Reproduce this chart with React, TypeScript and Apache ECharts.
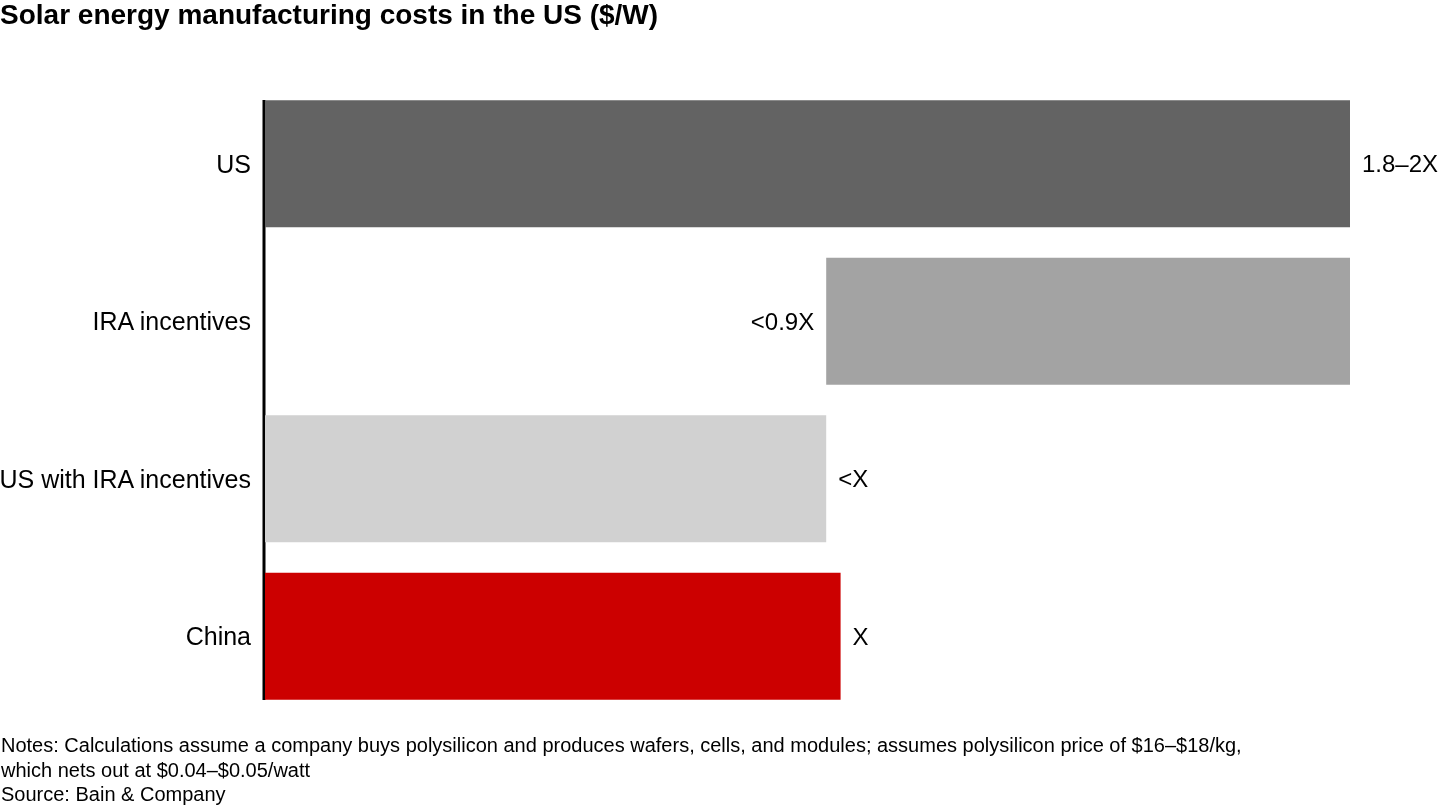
import React, { useEffect, useRef } from "react";
import * as echarts from "echarts";

const categories = ["US", "IRA incentives", "US with IRA incentives", "China"];
const baseValues = [0, 0.975, 0, 0];
const barValues = [1.885, 0.91, 0.975, 1.0];
const valueLabels = ["1.8–2X", "<0.9X", "<X", "X"];
const barColors = ["#636363", "#a3a3a3", "#d1d1d1", "#cc0000"];
const labelSides = ["right", "left", "right", "right"];

const titleText = "Solar energy manufacturing costs in the US ($/W)";
const noteLines = [
  "Notes: Calculations assume a company buys polysilicon and produces wafers, cells, and modules; assumes polysilicon price of $16–$18/kg,",
  "which nets out at $0.04–$0.05/watt",
  "Source: Bain & Company",
];

const FONT = "Arial, 'Liberation Sans', sans-serif";

export default function App() {
  const ref = useRef<HTMLDivElement>(null);
  useEffect(() => {
    if (!ref.current) return;
    const chart = echarts.init(ref.current, null, { renderer: "svg" });
    chart.setOption({
      animation: false,
      title: {
        text: titleText,
        left: 0,
        top: 0,
        padding: 0,
        textStyle: { fontFamily: FONT, fontSize: 28, fontWeight: "bold", color: "#000" },
      },
      grid: {
        left: 265,
        right: 90,
        top: 85,
        bottom: 95,
        containLabel: false,
        outerBoundsMode: "none",
      },
      xAxis: {
        type: "value",
        min: 0,
        max: 1.885,
        show: false,
      },
      yAxis: {
        type: "category",
        data: categories,
        inverse: true,
        axisLine: { show: false },
        axisTick: { show: false },
        axisLabel: { fontFamily: FONT, fontSize: 25, color: "#000", margin: 14 },
      },
      series: [
        {
          type: "bar",
          stack: "s",
          data: baseValues,
          itemStyle: { color: "transparent" },
          barCategoryGap: "19.4%",
          silent: true,
        },
        {
          type: "bar",
          stack: "s",
          barCategoryGap: "19.4%",
          data: barValues.map((v, i) => ({
            value: v,
            itemStyle: { color: barColors[i] },
            label: {
              show: true,
              position: labelSides[i],
              distance: 12,
              formatter: valueLabels[i],
              fontFamily: FONT,
              fontSize: 24,
              color: "#000",
            },
          })),
        },
      ],
      graphic: [
        {
          type: "line",
          shape: { x1: 264, y1: 100, x2: 264, y2: 700 },
          style: { stroke: "#000", lineWidth: 3 },
        },
        ...noteLines.map((t, i) => ({
          type: "text",
          left: 1,
          top: 735 + i * 24.5,
          style: { text: t, fontFamily: FONT, fontSize: 20, fill: "#000" },
        })),
      ],
    });
    return () => chart.dispose();
  }, []);
  return (
    <div
      ref={ref}
      style={{ width: 1440, height: 810, position: "fixed", left: 0, top: 0 }}
    />
  );
}
